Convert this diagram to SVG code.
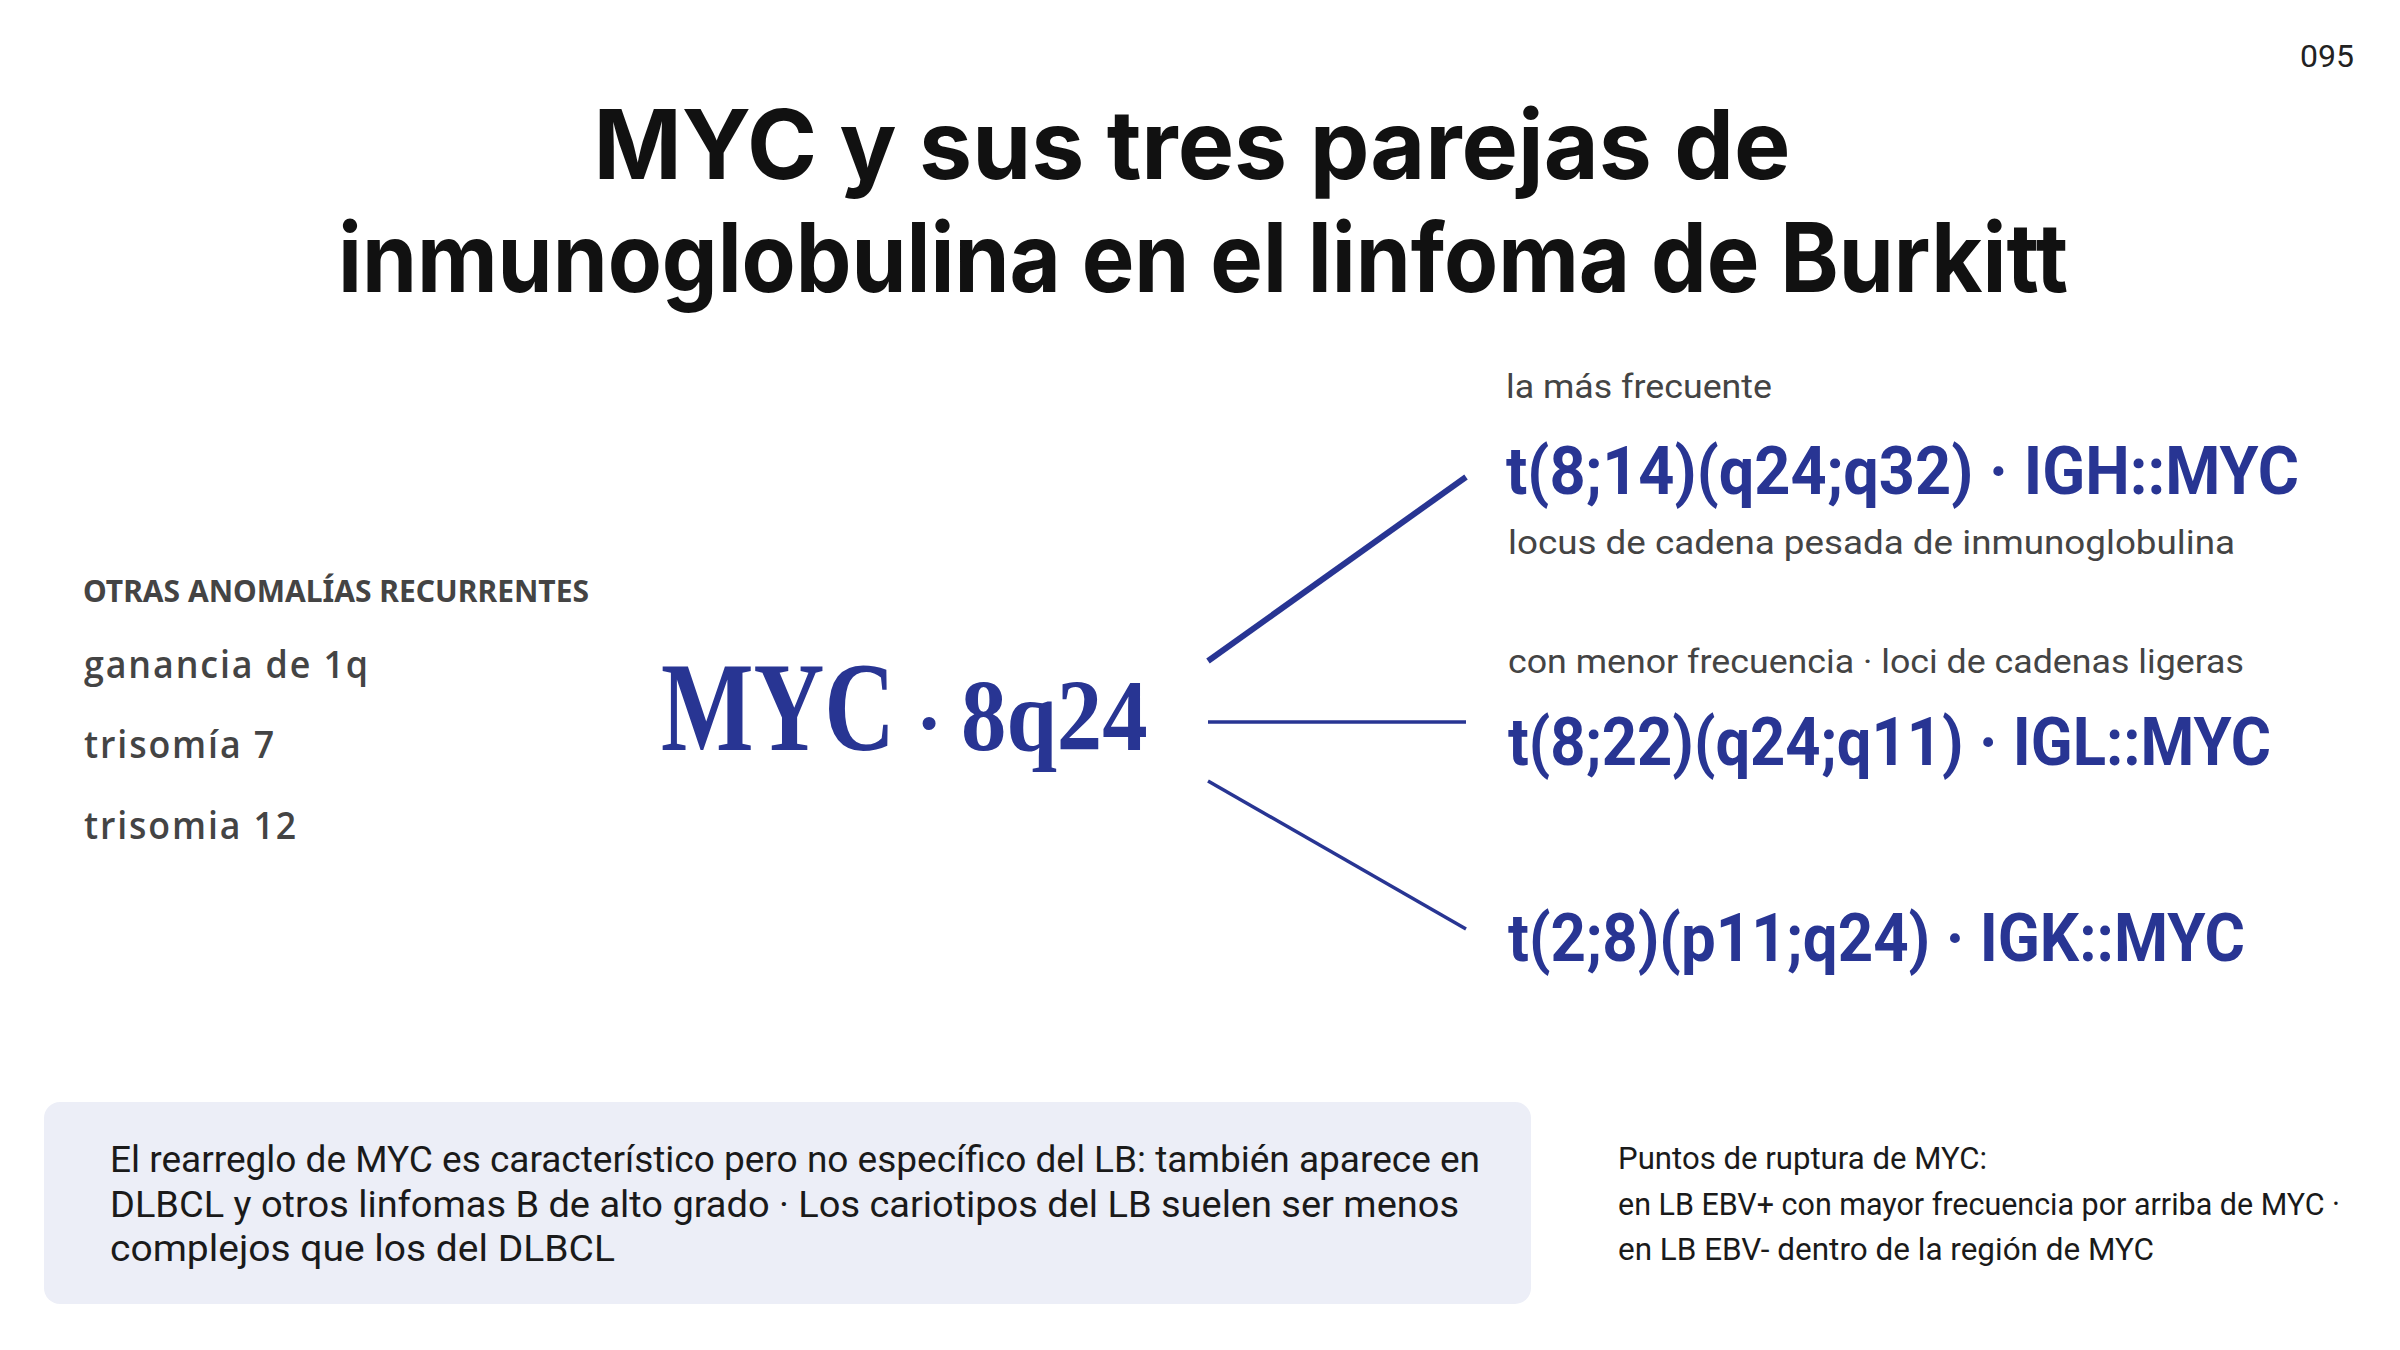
<svg xmlns="http://www.w3.org/2000/svg" width="2400" height="1350" viewBox="0 0 2400 1350">
<style>
.title{font-family:Inter,"Liberation Sans",sans-serif;font-weight:700;font-size:96px;fill:#111;text-anchor:middle}
.blue{font-family:Roboto,"Liberation Sans",sans-serif;font-weight:700;font-size:66px;fill:#283593}
.note{font-family:Roboto,"Liberation Sans",sans-serif;font-size:34px;fill:#444}
.left{font-family:"Open Sans","Liberation Sans",sans-serif;font-weight:600;fill:#444}
.head{font-family:"Noto Sans","Liberation Sans",sans-serif;font-weight:700;fill:#444}
.serif{font-family:"Liberation Serif","Times New Roman",serif;font-weight:700;fill:#283593}
.body{font-family:Roboto,"Liberation Sans",sans-serif;font-size:36px;fill:#1a1a1a}
.side{font-family:Roboto,"Liberation Sans",sans-serif;font-size:31px;fill:#1a1a1a}
.conn{stroke:#283593;fill:none;stroke-linecap:butt}
</style>
<rect width="2400" height="1350" fill="#ffffff"/>
<text x="2354" y="67" font-family="Roboto,'Liberation Sans',sans-serif" font-size="32" fill="#222" text-anchor="end">095</text>
<g id="title">
<text class="title" x="1192" y="179" textLength="1197" lengthAdjust="spacingAndGlyphs">MYC y sus tres parejas de</text>
<text class="title" x="1203" y="292" textLength="1730" lengthAdjust="spacingAndGlyphs">inmunoglobulina en el linfoma de Burkitt</text>
</g>
<g id="connectors">
<line class="conn" x1="1208" y1="661" x2="1466" y2="477" stroke-width="6"/>
<line class="conn" x1="1208" y1="722" x2="1466" y2="722" stroke-width="3.5"/>
<line class="conn" x1="1208" y1="781" x2="1466" y2="929" stroke-width="3.5"/>
</g>
<g id="myc">
<text class="serif" transform="matrix(0.772 0 0 1 661 750)" font-size="127">MYC</text>
<text class="serif" x="929" y="750" font-size="80" text-anchor="middle">·</text>
<text class="serif" transform="matrix(0.89 0 0 1 961 750)" font-size="102">8q24</text>
</g>
<g id="igh">
<text class="note" x="1506" y="398" textLength="266" lengthAdjust="spacingAndGlyphs">la más frecuente</text>
<text class="blue" x="1506" y="494" textLength="793" lengthAdjust="spacingAndGlyphs">t(8;14)(q24;q32) · IGH::MYC</text>
<text class="note" x="1508" y="554" textLength="727" lengthAdjust="spacingAndGlyphs">locus de cadena pesada de inmunoglobulina</text>
</g>
<g id="igl">
<text class="note" x="1508" y="673" textLength="736" lengthAdjust="spacingAndGlyphs">con menor frecuencia · loci de cadenas ligeras</text>
<text class="blue" x="1508" y="765" textLength="763" lengthAdjust="spacingAndGlyphs">t(8;22)(q24;q11) · IGL::MYC</text>
</g>
<g id="igk">
<text class="blue" x="1508" y="961" textLength="737" lengthAdjust="spacingAndGlyphs">t(2;8)(p11;q24) · IGK::MYC</text>
</g>
<g id="otras">
<text class="head" x="83" y="602" font-size="31" textLength="506" lengthAdjust="spacingAndGlyphs">OTRAS ANOMALÍAS RECURRENTES</text>
<text class="left" x="84" y="678" font-size="38" letter-spacing="2" textLength="286" lengthAdjust="spacingAndGlyphs">ganancia de 1q</text>
<text class="left" x="84" y="758" font-size="38" letter-spacing="2" textLength="192" lengthAdjust="spacingAndGlyphs">trisomía 7</text>
<text class="left" x="84" y="839" font-size="38" letter-spacing="2" textLength="214" lengthAdjust="spacingAndGlyphs">trisomia 12</text>
</g>
<g id="caja">
<rect x="44" y="1102" width="1487" height="202" rx="16" fill="#eceef7"/>
<text class="body" x="110" y="1172" textLength="1370" lengthAdjust="spacingAndGlyphs">El rearreglo de MYC es característico pero no específico del LB: también aparece en</text>
<text class="body" x="110" y="1217" textLength="1349" lengthAdjust="spacingAndGlyphs">DLBCL y otros linfomas B de alto grado ·  Los cariotipos del LB suelen ser menos</text>
<text class="body" x="110" y="1261" textLength="505" lengthAdjust="spacingAndGlyphs">complejos que los del DLBCL</text>
</g>
<g id="puntos">
<text class="side" x="1618" y="1169" textLength="369" lengthAdjust="spacingAndGlyphs">Puntos de ruptura de MYC:</text>
<text class="side" x="1618" y="1215" textLength="722" lengthAdjust="spacingAndGlyphs">en LB EBV+ con mayor frecuencia por arriba de MYC ·</text>
<text class="side" x="1618" y="1260" textLength="536" lengthAdjust="spacingAndGlyphs">en LB EBV- dentro de la región de MYC</text>
</g>
</svg>
